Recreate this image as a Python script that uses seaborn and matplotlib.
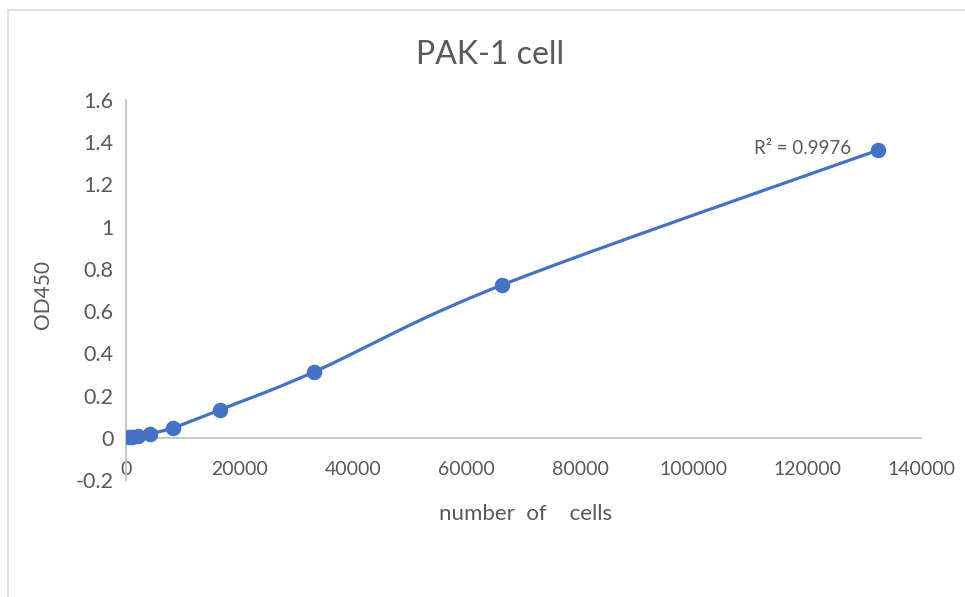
import matplotlib
matplotlib.use("Agg")
import matplotlib.pyplot as plt
from matplotlib.patches import Rectangle
import seaborn as sns
import numpy as np
import pandas as pd

# data
cells = [518, 1035, 2070, 4141, 8281, 16562, 33125, 66250, 132500]
od450 = [0.002, 0.005, 0.010, 0.019, 0.047, 0.133, 0.312, 0.724, 1.363]
r2_text = "R\u00b2 = 0.9976"

blue = "#4472C4"
grey_txt = "#595959"
grey_ln = "#BFBFBF"

sns.set_theme(style="white")
plt.rcParams["font.family"] = ["Lato", "DejaVu Sans"]

df = pd.DataFrame({"cells": cells, "od": od450})


def smooth(x, y, n=40):
    # excel-like smoothed line (catmull-rom style bezier)
    x = np.asarray(x, float)
    y = np.asarray(y, float)
    px = np.concatenate([[x[0]], x, [x[-1]]])
    py = np.concatenate([[y[0]], y, [y[-1]]])
    xs, ys = [], []
    t = np.linspace(0, 1, n)
    for i in range(1, len(px) - 2):
        p0 = np.array([px[i], py[i]])
        p3 = np.array([px[i + 1], py[i + 1]])
        p1 = p0 + (np.array([px[i + 1], py[i + 1]]) - np.array([px[i - 1], py[i - 1]])) / 6
        p2 = p3 - (np.array([px[i + 2], py[i + 2]]) - np.array([px[i], py[i]])) / 6
        b = ((1 - t) ** 3)[:, None] * p0 + (3 * (1 - t) ** 2 * t)[:, None] * p1 \
            + (3 * (1 - t) * t ** 2)[:, None] * p2 + (t ** 3)[:, None] * p3
        xs.extend(b[:, 0])
        ys.extend(b[:, 1])
    return np.array(xs), np.array(ys)


fig = plt.figure(figsize=(9.65, 5.97), dpi=100)
fig.patches.append(Rectangle((8 / 965, -0.1), 1.2, 1 - 10 / 597 + 0.1,
                             transform=fig.transFigure, fill=False,
                             edgecolor="#D9D9D9", linewidth=1.2))
ax = fig.add_axes([126 / 965, 1 - 480 / 597, 795 / 965, 380 / 597])

sx, sy = smooth(cells, od450)
ax.plot(sx, sy, color=blue, linewidth=2.3, zorder=3)
sns.scatterplot(data=df, x="cells", y="od", ax=ax, color=blue, s=125,
                edgecolor=blue, linewidth=0, zorder=4)

ax.set_xlim(0, 140000)
ax.set_ylim(-0.2, 1.6)
ax.set_xticks(np.arange(0, 140001, 20000))
ax.set_yticks(np.round(np.arange(-0.2, 1.61, 0.2), 1))
ax.set_yticklabels(["-0.2", "0", "0.2", "0.4", "0.6", "0.8", "1", "1.2", "1.4", "1.6"])

for s in ["top", "right"]:
    ax.spines[s].set_visible(False)
ax.spines["left"].set_color(grey_ln)
ax.spines["bottom"].set_color(grey_ln)
ax.spines["bottom"].set_position(("data", 0))
ax.tick_params(axis="both", colors=grey_ln, labelcolor=grey_txt, labelsize=14,
               length=5, width=1, direction="out")
ax.tick_params(axis="y", labelsize=15.5, pad=4)
ax.tick_params(axis="x", pad=12)

ax.set_xlabel("number  of    cells", color=grey_txt, fontsize=16)
ax.set_ylabel("OD450", color=grey_txt, fontsize=15)
ax.xaxis.set_label_coords(0.502, -0.063)
ax.yaxis.set_label_coords(-0.092, 0.487)

fig.text(490 / 965, 1 - 55 / 597, "PAK-1 cell", ha="center", va="center",
         fontsize=23, color=grey_txt)
ax.annotate(r2_text, xy=(803 / 965, 1 - 148 / 597), xycoords="figure fraction",
            ha="center", va="center", fontsize=13.5, color=grey_txt)

fig.savefig("out.png", dpi=100)
